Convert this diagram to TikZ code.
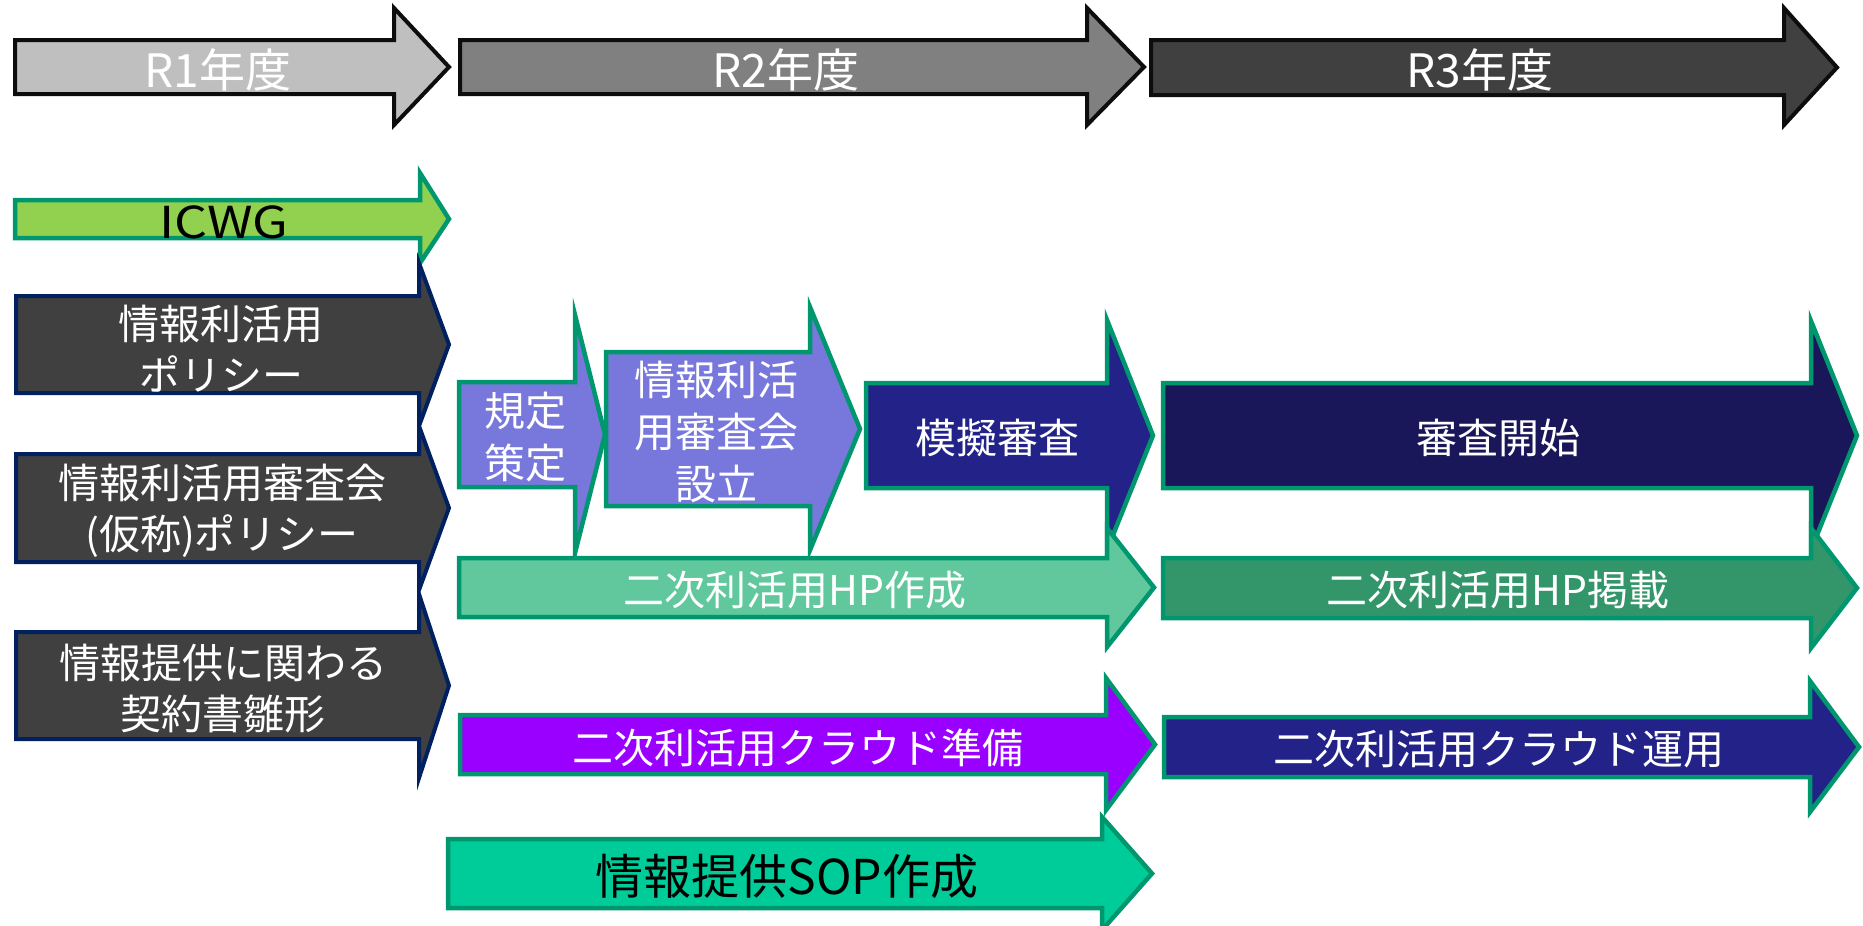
\documentclass[tikz,border=0pt]{standalone}
\usepackage{fontspec}
\newfontfamily\jp{Noto Sans CJK JP}
\definecolor{edgeblack}{RGB}{13,13,13}
\definecolor{edgegreen}{RGB}{0,150,110}
\definecolor{edgenavy}{RGB}{0,32,96}
\definecolor{yr1}{RGB}{191,191,191}
\definecolor{yr2}{RGB}{128,128,128}
\definecolor{yr3}{RGB}{64,64,64}
\definecolor{icwg}{RGB}{146,208,80}
\definecolor{policy}{RGB}{64,64,64}
\definecolor{lilac}{RGB}{120,120,220}
\definecolor{indigo}{RGB}{34,34,136}
\definecolor{deepnavy}{RGB}{25,23,90}
\definecolor{mint}{RGB}{96,200,156}
\definecolor{sea}{RGB}{51,150,107}
\definecolor{violet}{RGB}{153,0,255}
\definecolor{aqua}{RGB}{0,204,153}
\tikzset{
  yearbox/.style={fill=#1, draw=edgeblack, line width=4pt, line join=miter},
  greenbox/.style={fill=#1, draw=edgegreen, line width=4.5pt, line join=miter},
  navybox/.style={fill=#1, draw=edgenavy, line width=4pt, line join=miter},
  lbl/.style={font=\jp\fontsize{41}{51}\selectfont, text=white, align=center, inner sep=0pt},
  yearlbl/.style={font=\jp\fontsize{46}{52}\selectfont, text=white, inner sep=0pt},
  darklbl/.style={font=\jp\fontsize{44}{52}\selectfont, text=black, inner sep=0pt},
}
% style, x0, body top, body bottom, head x, head top, head bottom, tip x
\newcommand{\flowarrow}[8]{\draw[#1] (#2,#3) -- (#5,#3) -- (#5,#6) -- (#8,{(#3+#4)/2}) -- (#5,#7) -- (#5,#4) -- (#2,#4) -- cycle;}
\begin{document}
\begin{tikzpicture}[x=1pt,y=-1pt]
\useasboundingbox (0,0) rectangle (1863,926);
% year arrows
\flowarrow{yearbox=yr1}{15}{40}{94}{394}{8}{125}{449}
\flowarrow{yearbox=yr2}{460}{40}{94}{1087}{8}{125}{1144}
\flowarrow{yearbox=yr3}{1151}{40}{95}{1784}{8}{125}{1837}
\node[yearlbl] (r1) at (218,70) {R1年度};
\node[yearlbl] (r2) at (786,70) {R2年度};
\node[yearlbl] (r3) at (1480,70) {R3年度};
% ICWG
\flowarrow{greenbox=icwg}{15}{200}{238}{420}{173}{263}{449}
\node[darklbl] (icwgl) at (224,222) {\scalebox{1.18}[1]{ICWG}};
% policies
\flowarrow{navybox=policy}{16}{632}{739}{419}{594}{778}{449}
\flowarrow{navybox=policy}{16}{454}{562}{419}{426}{590}{449}
\flowarrow{navybox=policy}{16}{296}{393}{419}{263}{426}{449}
\node[lbl] (p1) at (221,349) {情報利活用\\ポリシー};
\node[lbl] (p2) at (222,511) {情報利活用審査会\\(仮称)ポリシー};
\node[lbl] (p3) at (223,689) {情報提供に関わる\\契約書雛形};
% review track
\flowarrow{greenbox=lilac}{459}{382}{487}{575}{315}{553}{605}
\flowarrow{greenbox=lilac}{606}{352}{506}{810}{307}{550}{860}
\flowarrow{greenbox=indigo}{866}{383}{488}{1107}{320}{550}{1153}
\flowarrow{greenbox=deepnavy}{1163}{383}{488}{1811}{321}{550}{1857}
\node[lbl, font=\jp\fontsize{41}{52}\selectfont] (a) at (525,437) {規定\\策定};
\node[lbl, font=\jp\fontsize{41}{52}\selectfont] (b) at (716,432) {情報利活\\用審査会\\設立};
\node[lbl] (c) at (997,438) {模擬審査};
\node[lbl] (e) at (1498,438) {審査開始};
% HP track
\flowarrow{greenbox=mint}{459}{558}{617}{1107}{528}{647}{1154}
\flowarrow{greenbox=sea}{1163}{558}{618}{1811}{528}{648}{1857}
\node[lbl] (d) at (795,590) {二次利活用HP作成};
\node[lbl] (f) at (1498,590) {二次利活用HP掲載};
% cloud track
\flowarrow{greenbox=violet}{460}{715}{774}{1106}{678}{810}{1155}
\flowarrow{greenbox=indigo}{1164}{717}{777}{1810}{681}{812}{1859}
\node[lbl] (g) at (798,748) {二次利活用クラウド準備};
\node[lbl] (h) at (1499,749) {二次利活用クラウド運用};
% SOP
\flowarrow{greenbox=aqua}{448}{839}{908}{1102}{817}{930}{1152}
\node[darklbl, font=\jp\fontsize{48}{56}\selectfont] (i) at (787,876) {情報提供SOP作成};
\end{tikzpicture}
\end{document}
